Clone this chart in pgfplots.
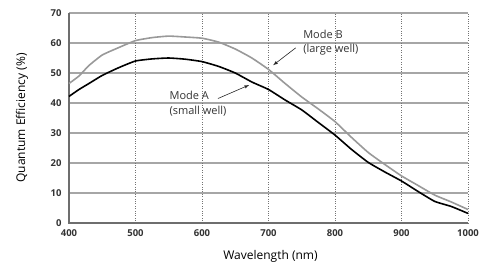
\documentclass[border=0pt]{standalone}
\usepackage{fontspec}
\setmainfont{Open Sans}
\usepackage{pgfplots}
\pgfplotsset{compat=1.18}
\definecolor{gridgray}{HTML}{A6A6A6}
\definecolor{axgray}{HTML}{6E6E6E}
\definecolor{curveb}{HTML}{999999}
\begin{document}
\begin{tikzpicture}
\begin{axis}[
  scale only axis,
  width=399pt, height=210pt,
  xmin=400, xmax=1000, ymin=0, ymax=70,
  xtick={400,500,...,1000}, ytick={0,10,...,70},
  /pgf/number format/assume math mode=true,
  /pgf/number format/1000 sep={},
  tick style={draw=none},
  axis line style={draw=none},
  xticklabel style={font=\fontsize{9.5}{10}\selectfont\bfseries, text=black!80, yshift=-3pt},
  yticklabel style={font=\fontsize{9.5}{10}\selectfont\bfseries, text=black!80, xshift=-4pt},
  xlabel={Wavelength (nm)}, ylabel={Quantum Efficiency (\%)},
  xlabel style={font=\fontsize{12}{13}\selectfont, at={(axis description cs:0.505,-0.157)}, anchor=center},
  ylabel style={font=\fontsize{12}{13}\selectfont, at={(axis description cs:-0.118,0.5)}, anchor=center},
  clip=false,
]
% grid
\pgfplotsinvokeforeach{10,20,...,70}{
  \draw[gridgray, line width=1.3pt] (axis cs:400,#1) -- (axis cs:1000,#1);
}
\pgfplotsinvokeforeach{500,600,...,1000}{
  \draw[black!55, line width=0.4pt, dotted] (axis cs:#1,0) -- (axis cs:#1,70);
}
\draw[axgray, line width=1.3pt] (axis cs:400,70) -- (axis cs:400,0) -- (axis cs:1000,0);

\addplot[curveb, line width=1.6pt, smooth, tension=0.3] coordinates {
(400,46.5) (415,49) (430,52.5) (450,56) (475,58.5) (500,60.8) (525,61.8) (550,62.3) (575,62) (600,61.6) (625,60.3) (650,58) (675,55) (700,51.2) (725,46.5) (750,42) (775,38) (800,33.8) (825,28.5) (850,23.5) (875,19.5) (900,15.7) (925,12.5) (950,9.3) (975,7) (1000,4.5)
};
\addplot[black, line width=1.6pt, smooth, tension=0.3] coordinates {
(400,42.2) (415,44.5) (430,46.5) (450,49.2) (475,51.8) (500,54) (525,54.7) (550,55) (575,54.6) (600,53.8) (625,52.2) (650,50) (675,47) (700,44.5) (725,41) (750,37.7) (775,33.5) (800,29.3) (825,24.5) (850,20.2) (875,17) (900,14) (925,10.5) (950,7.2) (975,5.5) (1000,3.2)
};

\node[anchor=west, font=\fontsize{11}{14.5}\selectfont, align=left, text=black!80, inner sep=0pt] at (axis cs:551,39.8) {Mode A\\(small well)};
\draw[-latex, black!85, line width=0.6pt] (axis cs:624,41.5) -- (axis cs:671,46);
\node[anchor=west, font=\fontsize{11}{14}\selectfont, align=left, text=black!80, inner sep=0pt] at (axis cs:752,60) {Mode B\\(large well)};
\draw[-latex, black!85, line width=0.6pt] (axis cs:741,58.4) -- (axis cs:707,52.6);
\end{axis}
\path (-69pt,-42pt) rectangle (419pt,223pt);
\end{tikzpicture}
\end{document}
